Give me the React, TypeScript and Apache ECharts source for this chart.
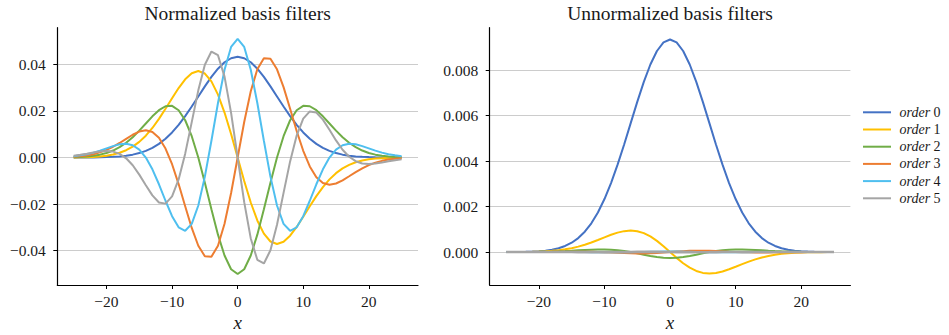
import React, { useEffect, useRef } from "react";
import * as echarts from "echarts";

// Sample positions (filter taps)
const xs = [
  -25, -24, -23, -22, -21, -20, -19, -18, -17, -16, -15, -14, -13, -12, -11, -10, -9, -8, -7, -6, -5, -4, -3, -2, -1,
  0, 1, 2, 3, 4, 5, 6, 7, 8, 9, 10, 11, 12, 13, 14, 15, 16, 17, 18, 19, 20, 21, 22, 23, 24, 25,
];

// Normalized basis filters, orders 0..5
const normOrder0 = [
  0.00001, 0.00001, 0.00003, 0.00005, 0.00009, 0.00017, 0.00029, 0.00048, 0.00078, 0.00123, 0.0019, 0.00284, 0.00413,
  0.00585, 0.00805, 0.01077, 0.01402, 0.01776, 0.02187, 0.0262, 0.03053, 0.03459, 0.03812, 0.04087, 0.0426, 0.0432,
  0.0426, 0.04087, 0.03812, 0.03459, 0.03053, 0.0262, 0.02187, 0.01776, 0.01402, 0.01077, 0.00805, 0.00585, 0.00413,
  0.00284, 0.0019, 0.00123, 0.00078, 0.00048, 0.00029, 0.00017, 0.00009, 0.00005, 0.00003, 0.00001, 0.00001,
];
const normOrder1 = [
  0.00004, 0.00008, 0.00015, 0.00027, 0.00047, 0.00079, 0.00129, 0.00204, 0.00313, 0.00466, 0.00672, 0.00938, 0.01268,
  0.01657, 0.0209, 0.02543, 0.0298, 0.03355, 0.03615, 0.03712, 0.03604, 0.03267, 0.027, 0.0193, 0.01006, 0, -0.01006,
  -0.0193, -0.027, -0.03267, -0.03604, -0.03712, -0.03615, -0.03355, -0.0298, -0.02543, -0.0209, -0.01657, -0.01268,
  -0.00938, -0.00672, -0.00466, -0.00313, -0.00204, -0.00129, -0.00079, -0.00047, -0.00027, -0.00015, -0.00008,
  -0.00004,
];
const normOrder2 = [
  0.00014, 0.00025, 0.00044, 0.00075, 0.00123, 0.00196, 0.003, 0.00444, 0.00635, 0.00873, 0.01153, 0.0146, 0.01767,
  0.0203, 0.02199, 0.02216, 0.02029, 0.01599, 0.00914, 0.0, -0.0108, -0.02224, -0.03309, -0.04204, -0.04794, -0.05,
  -0.04794, -0.04204, -0.03309, -0.02224, -0.0108, 0.0, 0.00914, 0.01599, 0.02029, 0.02216, 0.02199, 0.0203, 0.01767,
  0.0146, 0.01153, 0.00873, 0.00635, 0.00444, 0.003, 0.00196, 0.00123, 0.00075, 0.00044, 0.00025, 0.00014,
];
const normOrder3 = [
  0.00032, 0.00054, 0.00089, 0.00143, 0.00221, 0.00326, 0.00462, 0.00624, 0.00803, 0.00977, 0.01114, 0.01169, 0.01095,
  0.00845, 0.00385, -0.00288, -0.0114, -0.0209, -0.03021, -0.03785, -0.04236, -0.04256, -0.03786, -0.02842, -0.01524,
  0, 0.01524, 0.02842, 0.03786, 0.04256, 0.04236, 0.03785, 0.03021, 0.0209, 0.0114, 0.00288, -0.00385, -0.00845,
  -0.01095, -0.01169, -0.01114, -0.00977, -0.00803, -0.00624, -0.00462, -0.00326, -0.00221, -0.00143, -0.00089,
  -0.00054, -0.00032,
];
const normOrder4 = [
  0.00058, 0.00093, 0.00143, 0.00211, 0.00295, 0.00392, 0.00489, 0.00566, 0.00591, 0.00528, 0.0034, -0.00003, -0.00508,
  -0.01148, -0.01855, -0.02518, -0.02996, -0.03144, -0.02848, -0.02059, -0.00821, 0.00721, 0.0234, 0.03766, 0.04743,
  0.05091, 0.04743, 0.03766, 0.0234, 0.00721, -0.00821, -0.02059, -0.02848, -0.03144, -0.02996, -0.02518, -0.01855,
  -0.01148, -0.00508, -0.00003, 0.0034, 0.00528, 0.00591, 0.00566, 0.00489, 0.00392, 0.00295, 0.00211, 0.00143, 0.00093,
  0.00058,
];
const normOrder5 = [
  0.0008, 0.00118, 0.00164, 0.00214, 0.00258, 0.00279, 0.00255, 0.00158, -0.00034, -0.00334, -0.00734, -0.0119,
  -0.01626, -0.01929, -0.01978, -0.01666, -0.0094, 0.00166, 0.01517, 0.02882, 0.03982, 0.04546, 0.0439, 0.03472,
  0.01917, 0, -0.01917, -0.03472, -0.0439, -0.04546, -0.03982, -0.02882, -0.01517, -0.00166, 0.0094, 0.01666, 0.01978,
  0.01929, 0.01626, 0.0119, 0.00734, 0.00334, 0.00034, -0.00158, -0.00255, -0.00279, -0.00258, -0.00214, -0.00164,
  -0.00118, -0.0008,
];

// Unnormalized basis filters, orders 0..5
const rawOrder0 = [
  0.000002, 0.000003, 0.000006, 0.000011, 0.00002, 0.000036, 0.000062, 0.000104, 0.000169, 0.000267, 0.000411, 0.000614,
  0.000894, 0.001265, 0.001742, 0.002331, 0.003035, 0.003844, 0.004734, 0.005671, 0.006607, 0.007487, 0.008251,
  0.008845, 0.009221, 0.00935, 0.009221, 0.008845, 0.008251, 0.007487, 0.006607, 0.005671, 0.004734, 0.003844,
  0.003035, 0.002331, 0.001742, 0.001265, 0.000894, 0.000614, 0.000411, 0.000267, 0.000169, 0.000104, 0.000062,
  0.000036, 0.00002, 0.000011, 0.000006, 0.000003, 0.000002,
];
const rawOrder1 = [
  0.000001, 0.000002, 0.000004, 0.000007, 0.000012, 0.00002, 0.000033, 0.000052, 0.00008, 0.000119, 0.000171, 0.000239,
  0.000323, 0.000422, 0.000532, 0.000647, 0.000759, 0.000854, 0.00092, 0.000945, 0.000917, 0.000832, 0.000687,
  0.000491, 0.000256, 0, -0.000256, -0.000491, -0.000687, -0.000832, -0.000917, -0.000945, -0.00092, -0.000854,
  -0.000759, -0.000647, -0.000532, -0.000422, -0.000323, -0.000239, -0.000171, -0.000119, -0.00008, -0.000052,
  -0.000033, -0.00002, -0.000012, -0.000007, -0.000004, -0.000002, -0.000001,
];
const rawOrder2 = [
  0.000001, 0.000001, 0.000002, 0.000004, 0.000006, 0.00001, 0.000016, 0.000023, 0.000033, 0.000045, 0.00006, 0.000076,
  0.000092, 0.000105, 0.000114, 0.000115, 0.000105, 0.000083, 0.000047, 0, -0.000056, -0.000116, -0.000172, -0.000218,
  -0.000249, -0.00026, -0.000249, -0.000218, -0.000172, -0.000116, -0.000056, 0, 0.000047, 0.000083, 0.000105,
  0.000115, 0.000114, 0.000105, 0.000092, 0.000076, 0.00006, 0.000045, 0.000033, 0.000023, 0.000016, 0.00001, 0.000006,
  0.000004, 0.000002, 0.000001, 0.000001,
];
const rawOrder3 = [
  0.0000004, 0.0000008, 0.0000012, 0.000002, 0.0000031, 0.0000045, 0.0000064, 0.0000087, 0.0000111, 0.0000136,
  0.0000155, 0.0000162, 0.0000152, 0.0000117, 0.0000053, -0.000004, -0.0000158, -0.000029, -0.0000419, -0.0000525,
  -0.0000588, -0.0000591, -0.0000525, -0.0000394, -0.0000212, 0, 0.0000212, 0.0000394, 0.0000525, 0.0000591, 0.0000588,
  0.0000525, 0.0000419, 0.000029, 0.0000158, 0.000004, -0.0000053, -0.0000117, -0.0000152, -0.0000162, -0.0000155,
  -0.0000136, -0.0000111, -0.0000087, -0.0000064, -0.0000045, -0.0000031, -0.000002, -0.0000012, -0.0000008,
  -0.0000004,
];
const rawOrder4 = [
  0.0000002, 0.0000004, 0.0000006, 0.0000009, 0.0000013, 0.0000017, 0.0000021, 0.0000024, 0.0000025, 0.0000022,
  0.0000014, 0, -0.0000022, -0.0000049, -0.0000079, -0.0000107, -0.0000127, -0.0000134, -0.0000121, -0.0000087,
  -0.0000035, 0.0000031, 0.0000099, 0.000016, 0.0000202, 0.0000216, 0.0000202, 0.000016, 0.0000099, 0.0000031,
  -0.0000035, -0.0000087, -0.0000121, -0.0000134, -0.0000127, -0.0000107, -0.0000079, -0.0000049, -0.0000022, 0,
  0.0000014, 0.0000022, 0.0000025, 0.0000024, 0.0000021, 0.0000017, 0.0000013, 0.0000009, 0.0000006, 0.0000004,
  0.0000002,
];
const rawOrder5 = [
  0.0000001, 0.0000002, 0.0000002, 0.0000003, 0.0000004, 0.0000004, 0.0000004, 0.0000002, -0.0000001, -0.0000005,
  -0.0000011, -0.0000018, -0.0000025, -0.0000029, -0.000003, -0.0000025, -0.0000014, 0.0000003, 0.0000023, 0.0000044,
  0.000006, 0.0000069, 0.0000067, 0.0000053, 0.0000029, 0, -0.0000029, -0.0000053, -0.0000067, -0.0000069, -0.000006,
  -0.0000044, -0.0000023, -0.0000003, 0.0000014, 0.0000025, 0.000003, 0.0000029, 0.0000025, 0.0000018, 0.0000011,
  0.0000005, 0.0000001, -0.0000002, -0.0000004, -0.0000004, -0.0000004, -0.0000003, -0.0000002, -0.0000002,
  -0.0000001,
];

const orderNames = ["order 0", "order 1", "order 2", "order 3", "order 4", "order 5"];
const orderColors = ["#4472C4", "#FFC000", "#70AD47", "#ED7D31", "#4FBFEF", "#A5A5A5"];

const panelTitles = ["Normalized basis filters", "Unnormalized basis filters"];
const xAxisTitle = "x";
const xTicks = [-20, -10, 0, 10, 20];
const normTicks = [-0.04, -0.02, 0, 0.02, 0.04];
const rawTicks = [0, 0.002, 0.004, 0.006, 0.008];

const normSets = [normOrder0, normOrder1, normOrder2, normOrder3, normOrder4, normOrder5];
const rawSets = [rawOrder0, rawOrder1, rawOrder2, rawOrder3, rawOrder4, rawOrder5];

const FONT = "'Liberation Serif', serif";
const INK = "#1a1a1a";

const minus = (s: string) => s.replace("-", "\u2212");

// rich-text style shared by all tick labels
const tickRich = { t: { fontFamily: FONT, fontSize: 15.5, color: INK } };

export default function App() {
  const ref = useRef<HTMLDivElement>(null);

  useEffect(() => {
    if (!ref.current) return;
    const chart = echarts.init(ref.current, undefined, { renderer: "svg" });

    const grids = [
      { left: 57.3, top: 27.7, width: 360.7, height: 257.3 },
      { left: 489.7, top: 27.7, width: 360.7, height: 257.3 },
    ];

    const xAxisFor = (gridIndex: number) => ({
      type: "value",
      gridIndex,
      min: -27.5,
      max: 27.5,
      axisLine: { show: true, onZero: false, lineStyle: { color: "#000", width: 1.2 } },
      axisTick: { show: true, customValues: xTicks, length: 4, lineStyle: { color: "#000", width: 1 } },
      axisLabel: {
        customValues: xTicks,
        margin: 8,
        rich: tickRich,
        formatter: (v: number) => `{t|${minus(String(v))}}`,
      },
      splitLine: { show: false },
    });

    const yAxisFor = (gridIndex: number, min: number, max: number, ticks: number[], digits: number) => ({
      type: "value",
      gridIndex,
      min,
      max,
      axisLine: { show: true, onZero: false, lineStyle: { color: "#000", width: 1.2 } },
      axisTick: { show: true, customValues: ticks, length: 4, lineStyle: { color: "#000", width: 1 } },
      axisLabel: {
        customValues: ticks,
        margin: 11.5,
        rich: tickRich,
        formatter: (v: number) => `{t|${minus(v.toFixed(digits))}}`,
      },
      splitLine: { show: true, lineStyle: { color: "#cccccc", width: 1 } },
    });

    const series: any[] = [];
    [normSets, rawSets].forEach((sets, g) => {
      sets.forEach((vals, i) => {
        series.push({
          type: "line",
          name: orderNames[i],
          xAxisIndex: g,
          yAxisIndex: g,
          data: xs.map((x, k) => [x, vals[k]]),
          showSymbol: false,
          symbol: "none",
          color: orderColors[i],
          lineStyle: { width: g === 1 && i === 5 ? 2.6 : 2, color: orderColors[i] },
          z: 2 + i,
        });
      });
    });

    const titleTexts = panelTitles.map((t, i) => ({
      type: "text",
      x: grids[i].left + grids[i].width / 2,
      y: 13.5,
      style: {
        text: t,
        font: `19.5px ${FONT}`,
        fill: INK,
        textAlign: "center",
        textVerticalAlign: "middle",
      },
    }));
    const axisTitles = grids.map((gr) => ({
      type: "text",
      x: gr.left + gr.width / 2,
      y: 322,
      style: {
        text: xAxisTitle,
        font: `italic 19px ${FONT}`,
        fill: INK,
        textAlign: "center",
        textVerticalAlign: "middle",
      },
    }));

    chart.setOption({
      animation: false,
      backgroundColor: "#ffffff",
      grid: grids,
      xAxis: [xAxisFor(0), xAxisFor(1)],
      yAxis: [
        yAxisFor(0, -0.0547, 0.0557, normTicks, 2),
        yAxisFor(1, -0.00145, 0.00987, rawTicks, 3),
      ],
      legend: {
        orient: "vertical",
        left: 858,
        top: 100.3,
        icon: "rect",
        itemWidth: 28,
        itemHeight: 2,
        itemGap: 3.2,
        data: orderNames,
        formatter: (name: string) => `{i|order} {n|${name.split(" ")[1]}}`,
        textStyle: {
          padding: [0, 0, 0, 3.5],
          rich: {
            i: { fontStyle: "italic", fontFamily: FONT, fontSize: 14, lineHeight: 14, color: INK },
            n: { fontFamily: FONT, fontSize: 14, lineHeight: 14, color: INK },
          },
        },
      },
      graphic: [...titleTexts, ...axisTitles],
      series,
    });

    return () => chart.dispose();
  }, []);

  return (
    <div
      ref={ref}
      style={{ position: "fixed", left: 0, top: 0, width: 949, height: 335, background: "#fff" }}
    />
  );
}
